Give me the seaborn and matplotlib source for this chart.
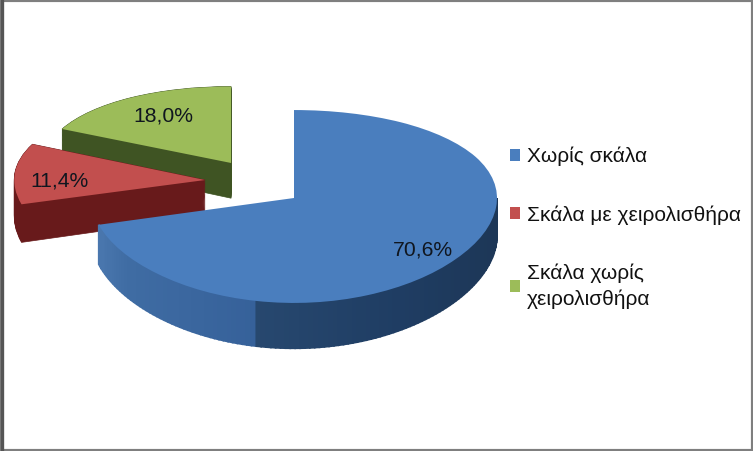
import numpy as np
import matplotlib
matplotlib.use("Agg")
import matplotlib.pyplot as plt
from matplotlib.colors import to_rgb
from matplotlib.lines import Line2D
from matplotlib.patches import Polygon, Rectangle, Wedge
import seaborn as sns

categories = ["Χωρίς σκάλα", "Σκάλα με χειρολισθήρα", "Σκάλα χωρίς\nχειρολισθήρα"]
shares = [70.6, 11.4, 18.0]
value_labels = ["70,6%", "11,4%", "18,0%"]

top_colors = ["#4A7EBE", "#C24F4E", "#9CBC59"]
wall_colors = ["#2A4D78", "#681A1B", "#3F5423"]

sns.set_theme(style="white")
plt.rcParams["font.family"] = ["Liberation Sans", "DejaVu Sans"]

W, H = 753, 451
APEX_X, APEX_Y, PX_PER_UNIT = 294, 198, 203
C, K = 95.7, 0.088
DEPTH = 0.38

centers = [(0.0, 0.0), (-0.438, 0.191), (-0.31, 0.378)]
radii = [1.0, 0.94, 0.92]
label_r = [0.80, 0.72, 0.66]
label_nudge_pt = [(-0.7, -3.0), (0.0, -4.3), (2.9, -0.7)]
slice_z = [3.0, 2.0, 1.0]


def persp(y):
    y = np.asarray(y, dtype=float)
    return C * y / (1 + K * y)


def unpersp(p):
    p = np.asarray(p, dtype=float)
    return p / (C - K * p)


fig = plt.figure(figsize=(W / 100, H / 100), dpi=100, facecolor="white")
ax = fig.add_axes([0, 0, 1, 1])

wedges, _ = ax.pie(shares, colors=top_colors, startangle=90, counterclock=False,
                   wedgeprops={"linewidth": 0})
ax.set_aspect("auto")
ax.set_yscale("function", functions=(persp, unpersp))
ax.set_xlim(-APEX_X / PX_PER_UNIT, (W - APEX_X) / PX_PER_UNIT)
ax.set_ylim(float(unpersp(APEX_Y - H)), float(unpersp(APEX_Y)))
ax.set_axis_off()


def blue_wall_color(x_px):
    stops_x = [100, 130, 255, 256, 400, 497]
    stops = [to_rgb(c) for c in ["#4A77AE", "#3F6CA3", "#36619A", "#27486F", "#1F3D63", "#1D3757"]]
    return tuple(np.interp(x_px, stops_x, [s[i] for s in stops]) for i in range(3))


for i, w in enumerate(wedges):
    cx, cy = centers[i]
    r = radii[i]
    w.set_center((cx, cy))
    w.set_radius(r)
    w.set_zorder(slice_z[i] + 0.9)
    t1, t2 = w.theta1, w.theta2
    if i == 0:
        # outer wall of the large slice, shaded along the front arc
        angles = np.linspace(t1, 0.0, 120)
        for a0, a1 in zip(angles[:-1], angles[1:]):
            xs = cx + r * np.cos(np.radians([a0, a1]))
            ys = cy + r * np.sin(np.radians([a0, a1]))
            col = blue_wall_color(APEX_X + PX_PER_UNIT * xs.mean())
            ax.add_patch(Polygon([(xs[0], ys[0]), (xs[1], ys[1]),
                                  (xs[1], ys[1] - DEPTH), (xs[0], ys[0] - DEPTH)],
                                 closed=True, facecolor=col, edgecolor=col, lw=1.2,
                                 joinstyle="miter", zorder=slice_z[i] + 0.1))
    else:
        for n, d in enumerate(np.linspace(DEPTH, 0, 40)):
            ax.add_patch(Wedge((cx, cy - d), r, t1, t2, facecolor=wall_colors[i],
                               edgecolor=wall_colors[i], lw=0.5,
                               zorder=slice_z[i] + 0.1 + n * 0.01))
    mid = np.radians((t1 + t2) / 2)
    ax.annotate(value_labels[i],
                xy=(cx + label_r[i] * np.cos(mid), cy + label_r[i] * np.sin(mid)),
                xytext=label_nudge_pt[i], textcoords="offset points",
                ha="center", va="center", fontsize=15.2, color="#10161f", zorder=10)

leg = ax.legend(wedges, categories, loc="upper left",
                bbox_to_anchor=(510 / W, 1 - 147 / H), bbox_transform=fig.transFigure,
                frameon=False, fontsize=15, handlelength=0.5, handleheight=0.5,
                handletextpad=0.3, labelspacing=1.85, borderpad=0, borderaxespad=0,
                labelcolor="#111111", alignment="left")
leg.get_texts()[2].set_linespacing(1.45)

fig.add_artist(Rectangle((0, 0), 1, 1, transform=fig.transFigure, fill=False,
                         edgecolor="#7f7f7f", lw=3.0))
fig.add_artist(Line2D([1.5 / W, 1.5 / W], [0, 1], transform=fig.transFigure,
                      color="#555555", lw=2.4))

fig.savefig("out.png", dpi=100, facecolor="white")
